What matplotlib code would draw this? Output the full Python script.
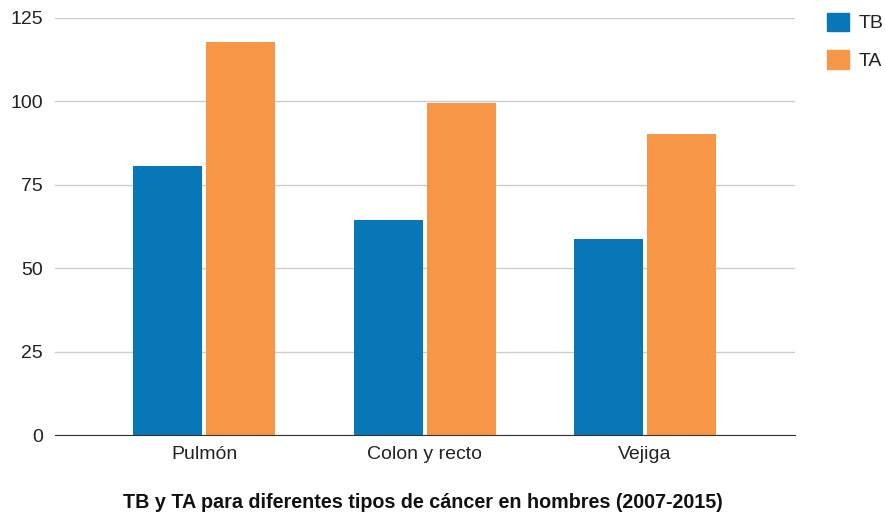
import numpy as np
import matplotlib.pyplot as plt
from matplotlib.patches import Patch

plt.rcParams['font.family'] = ['Liberation Sans', 'DejaVu Sans']

categories = ["Pulmón", "Colon y recto", "Vejiga"]
tb_values = [80.6, 64.4, 58.8]
ta_values = [117.8, 99.5, 90.2]
tb_color = "#0777b7"
ta_color = "#f79646"

fig = plt.figure(figsize=(8.87, 5.15), dpi=100)
ax = fig.add_axes([55 / 887, 80 / 515, 740 / 887, 417 / 515])

x = np.arange(len(categories))
w = 0.313
gap = 0.009
ax.bar(x - w / 2 - gap, tb_values, width=w, color=tb_color, zorder=3)
ax.bar(x + w / 2 + gap, ta_values, width=w, color=ta_color, zorder=3)

ax.set_xlim(-0.676, 2.68)
ax.set_ylim(0, 125)
ax.set_yticks([0, 25, 50, 75, 100, 125])
ax.set_xticks(x)
ax.set_xticklabels(categories)
ax.tick_params(axis='both', length=0, labelsize=14, colors="#222222")
ax.tick_params(axis='x', pad=8)
ax.tick_params(axis='y', pad=8.5)
ax.grid(axis='y', color="#cccccc", linewidth=1, zorder=0)
for s in ["top", "right", "left"]:
    ax.spines[s].set_visible(False)
ax.spines["bottom"].set_color("#333333")
ax.spines["bottom"].set_zorder(4)

handles = [Patch(color=tb_color, label="TB"), Patch(color=ta_color, label="TA")]
fig.legend(handles=handles, loc="upper left", bbox_to_anchor=(810 / 887, 1 + 5 / 515),
           frameon=False, fontsize=14, handlelength=1.1, handleheight=1.1,
           labelspacing=0.9, handletextpad=0.5, labelcolor="#222222")

fig.text(423 / 887, 1 - 502 / 515, "TB y TA para diferentes tipos de cáncer en hombres (2007-2015)",
         ha="center", va="center", fontsize=14.2, fontweight="bold", color="#111111")

fig.savefig("out.png", dpi=100)
